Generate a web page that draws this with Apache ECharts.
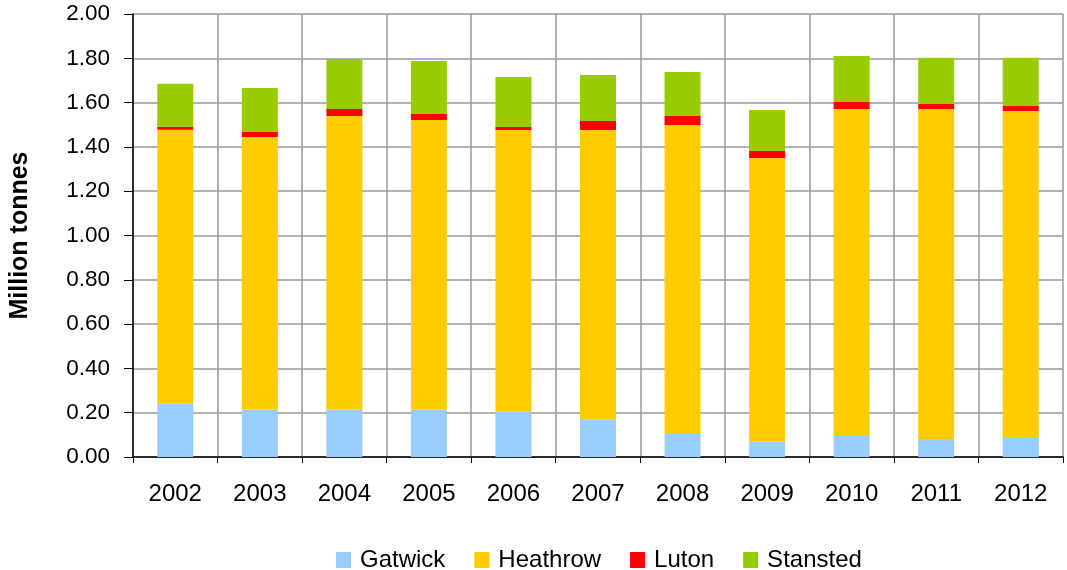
<!DOCTYPE html>
<html><head><meta charset="utf-8">
<script src="https://cdn.jsdelivr.net/npm/echarts@6/dist/echarts.min.js"></script>
<style>html,body{margin:0;padding:0;background:#fff}#c{width:1067px;height:570px}</style>
</head><body><div id="c"></div>
<script>
const years = ['2002','2003','2004','2005','2006','2007','2008','2009','2010','2011','2012'];
const gatwick  = [0.24, 0.215, 0.215, 0.215, 0.206, 0.170, 0.108, 0.069, 0.099, 0.081, 0.090];
const heathrow = [1.237, 1.230, 1.325, 1.306, 1.270, 1.306, 1.391, 1.281, 1.472, 1.490, 1.472];
const luton    = [0.014, 0.022, 0.031, 0.028, 0.014, 0.041, 0.041, 0.031, 0.032, 0.023, 0.023];
const stansted = [0.194, 0.199, 0.226, 0.239, 0.226, 0.208, 0.198, 0.186, 0.207, 0.209, 0.218];
const yTicks = ['0.00','0.20','0.40','0.60','0.80','1.00','1.20','1.40','1.60','1.80','2.00'];

const font = 'Liberation Sans, Arial, sans-serif';
const chart = echarts.init(document.getElementById('c'));
function s(name, data, color){
  return {name, type:'bar', stack:'a', data, barWidth:36, itemStyle:{color}, emphasis:{disabled:true}};
}
chart.setOption({
  animation:false,
  grid:{left:128, right:4, top:14, bottom:113, containLabel:false},
  legend:{top:548, left:336, padding:0, itemWidth:15, itemHeight:16, itemGap:29,
    icon:'rect', textStyle:{fontFamily:font, fontSize:24, color:'#000', padding:[0,0,0,4]},
    data:['Gatwick','Heathrow','Luton','Stansted']},
  xAxis:{type:'category', data:years, boundaryGap:true,
    axisLine:{lineStyle:{color:'#000', width:1.5}},
    axisTick:{show:true, length:6, inside:false, lineStyle:{color:'#000'}},
    axisLabel:{fontFamily:font, fontSize:24, color:'#000', margin:25},
    splitLine:{show:true, lineStyle:{color:'#9a9a9a', width:1.5}}},
  yAxis:{type:'value', min:0, max:2, interval:0.2,
    name:'Million tonnes', nameLocation:'middle', nameGap:100, nameRotate:90,
    nameTextStyle:{fontFamily:font, fontSize:25, fontWeight:'bold', color:'#000'},
    axisLine:{show:true, lineStyle:{color:'#000', width:1.5}},
    axisTick:{show:true, length:9, lineStyle:{color:'#000'}},
    axisLabel:{fontFamily:font, fontSize:22.5, color:'#000', margin:23,
      formatter:(v)=>yTicks[Math.round(v/0.2)]},
    splitLine:{show:true, lineStyle:{color:'#9a9a9a', width:1.5}}},
  series:[
    s('Gatwick', gatwick, '#99ccff'),
    s('Heathrow', heathrow, '#ffcc00'),
    s('Luton', luton, '#ff0000'),
    s('Stansted', stansted, '#99cc00')
  ]
});
</script></body></html>
